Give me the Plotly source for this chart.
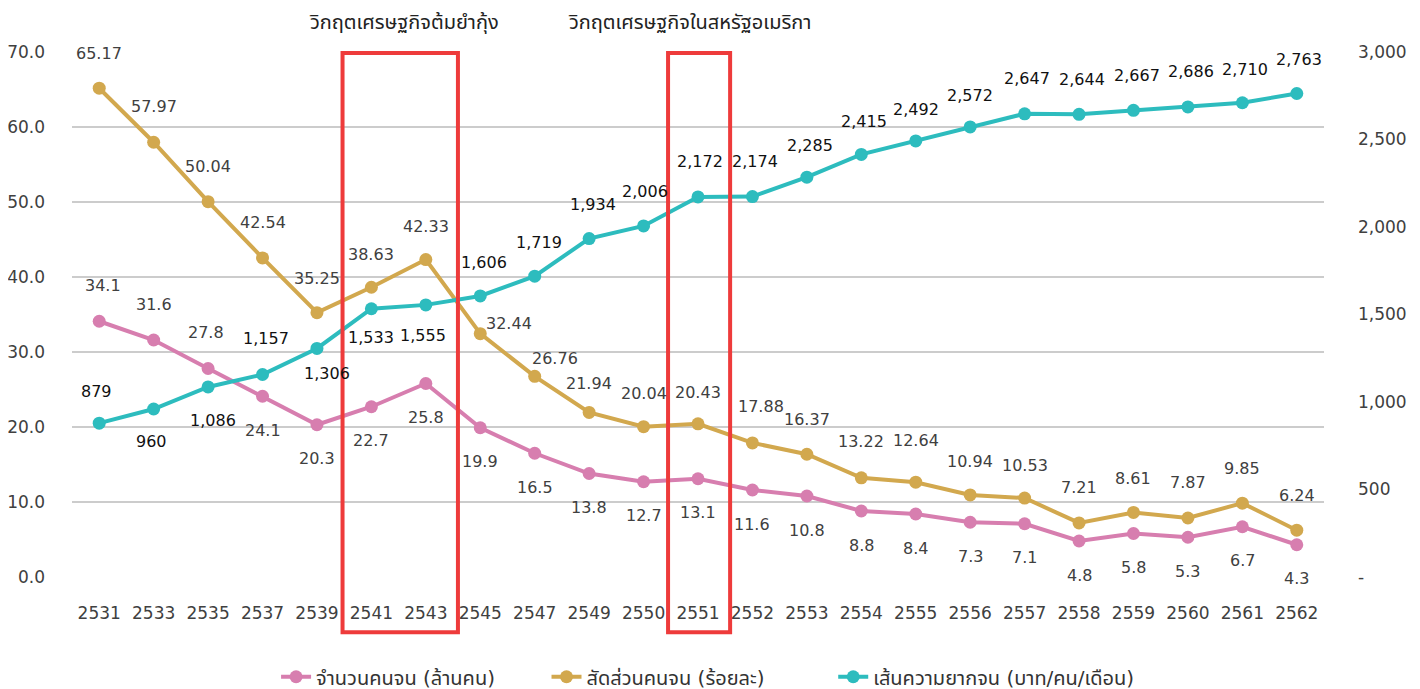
import plotly.graph_objects as go

years = ["2531", "2533", "2535", "2537", "2539", "2541", "2543", "2545", "2547", "2549",
         "2550", "2551", "2552", "2553", "2554", "2555", "2556", "2557", "2558", "2559",
         "2560", "2561", "2562"]
poor_count = [34.1, 31.6, 27.8, 24.1, 20.3, 22.7, 25.8, 19.9, 16.5, 13.8, 12.7, 13.1, 11.6,
              10.8, 8.8, 8.4, 7.3, 7.1, 4.8, 5.8, 5.3, 6.7, 4.3]
poor_ratio = [65.17, 57.97, 50.04, 42.54, 35.25, 38.63, 42.33, 32.44, 26.76, 21.94, 20.04,
              20.43, 17.88, 16.37, 13.22, 12.64, 10.94, 10.53, 7.21, 8.61, 7.87, 9.85, 6.24]
poverty_line = [879, 960, 1086, 1157, 1306, 1533, 1555, 1606, 1719, 1934, 2006, 2172, 2174,
                2285, 2415, 2492, 2572, 2647, 2644, 2667, 2686, 2710, 2763]

names = ["จำนวนคนจน (ล้านคน)", "สัดส่วนคนจน (ร้อยละ)", "เส้นความยากจน (บาท/คน/เดือน)"]
crisis_titles = ["วิกฤตเศรษฐกิจต้มยำกุ้ง", "วิกฤตเศรษฐกิจในสหรัฐอเมริกา"]

left_ticks = [0, 10, 20, 30, 40, 50, 60, 70]
left_text = ["0.0", "10.0", "20.0", "30.0", "40.0", "50.0", "60.0", "70.0"]
right_ticks = [0, 500, 1000, 1500, 2000, 2500, 3000]
right_text = ["-", "500", "1,000", "1,500", "2,000", "2,500", "3,000"]

PINK = "#D77EAF"
GOLD = "#D2A84E"
TEAL = "#2DBCBE"
FONT = "DejaVu Sans, Noto Sans Thai, sans-serif"

# label offsets (style only)
pink_dy = [36, 36, 36] + [-34] * 20
pink_dx = [4, 0, -2] + [0] * 20
gold_dy = [35, 36, 35, 35, 34, 33, 33, 10, 18, 29, 33, 31, 36, 35, 36, 42, 33, 33, 35, 34, 35, 35, 35]
gold_dx = [0, 0, 0, 0, 0, 0, 0, 29, 20, 0, 0, 0, 9, 0, 0, 0, 0, 0, 0, 0, 0, 0, 0]
teal_dy = [32, -32, -34, 36, -25, -29, -31, 33, 34, 34, 34, 35, 35, 32, 33, 31, 31, 35, 35, 35, 35, 33, 34]
teal_dx = [-3, -2, 5, 3, 10, 0, -3, 4, 4, 4, 1, 2, 3, 3, 3, 0, 0, 2, 3, 4, 3, 3, 2]

fig = go.Figure()
fig.add_trace(go.Scatter(x=years, y=poor_count, name=names[0], mode="lines+markers", legend="legend",
                         line=dict(color=PINK, width=4), marker=dict(size=13, color=PINK)))
fig.add_trace(go.Scatter(x=years, y=poor_ratio, name=names[1], mode="lines+markers", legend="legend2",
                         line=dict(color=GOLD, width=4), marker=dict(size=13, color=GOLD)))
fig.add_trace(go.Scatter(x=years, y=poverty_line, name=names[2], mode="lines+markers", yaxis="y2",
                         legend="legend3",
                         line=dict(color=TEAL, width=4), marker=dict(size=13, color=TEAL)))

anns = []
for i, yr in enumerate(years):
    anns.append(dict(x=i, y=poor_count[i], xref="x", yref="y", text=f"{poor_count[i]:.1f}",
                     showarrow=False, xshift=pink_dx[i], yshift=pink_dy[i],
                     font=dict(size=16, color="#404040", family=FONT)))
    anns.append(dict(x=i, y=poor_ratio[i], xref="x", yref="y", text=f"{poor_ratio[i]:.2f}",
                     showarrow=False, xshift=gold_dx[i], yshift=gold_dy[i],
                     font=dict(size=16, color="#404040", family=FONT)))
    anns.append(dict(x=i, y=poverty_line[i], xref="x", yref="y2", text=f"{poverty_line[i]:,}",
                     showarrow=False, xshift=teal_dx[i], yshift=teal_dy[i],
                     font=dict(size=16, color="#111111", family=FONT)))

anns.append(dict(x=5.6, y=1.0, xref="x", yref="paper", yshift=44, text=crisis_titles[0],
                 showarrow=False, font=dict(size=20, color="#222222", family=FONT)))
anns.append(dict(x=10.85, y=1.0, xref="x", yref="paper", yshift=44, text=crisis_titles[1],
                 showarrow=False, font=dict(size=20, color="#222222", family=FONT)))
fig.update_layout(annotations=anns)

fig.add_shape(type="rect", xref="x", yref="paper", x0=4.47, x1=6.59, y0=-0.105, y1=0.998,
              line=dict(color="#EE3B3B", width=4), fillcolor="rgba(0,0,0,0)", layer="above")
fig.add_shape(type="rect", xref="x", yref="paper", x0=10.45, x1=11.59, y0=-0.105, y1=0.998,
              line=dict(color="#EE3B3B", width=4), fillcolor="rgba(0,0,0,0)", layer="above")

leg_common = dict(orientation="h", xanchor="left", y=-0.19, yanchor="middle",
                  font=dict(size=20, color="#333333", family=FONT), itemwidth=30,
                  bgcolor="rgba(0,0,0,0)")

# page body adds an 8px margin, so the figure is 8px smaller on each of those sides
fig.update_layout(
    width=1412, height=681,
    margin=dict(l=64, r=96, t=44, b=112, autoexpand=False),
    paper_bgcolor="white", plot_bgcolor="white",
    font=dict(family=FONT, color="#404040"),
    showlegend=True,
    legend=dict(x=0.163, **leg_common),
    legend2=dict(x=0.379, **leg_common),
    legend3=dict(x=0.608, **leg_common),
    xaxis=dict(type="category", range=[-0.5, 22.5], showgrid=False, zeroline=False,
               showline=False, ticks="", tickfont=dict(size=17, color="#404040"),
               ticklabelstandoff=24, automargin=False),
    yaxis=dict(range=[0, 70], tickvals=left_ticks, ticktext=left_text, showgrid=True,
               gridcolor="#CCCCCC", gridwidth=2, zeroline=False, showline=False,
               tickfont=dict(size=17, color="#404040"), ticklabelstandoff=26, automargin=False),
    yaxis2=dict(range=[0, 3000], tickvals=right_ticks, ticktext=right_text, overlaying="y",
                side="right", showgrid=False, zeroline=False, showline=False,
                tickfont=dict(size=17, color="#404040"), ticklabelstandoff=33, automargin=False),
)

fig.write_html("out.html")
